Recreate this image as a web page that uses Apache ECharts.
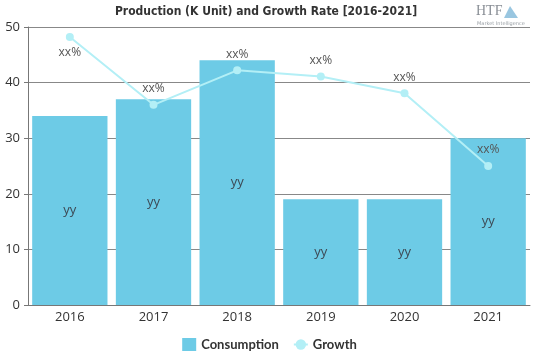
<!DOCTYPE html>
<html><head><meta charset="utf-8">
<script src="https://cdn.jsdelivr.net/npm/echarts@6/dist/echarts.min.js"></script>
<style>html,body{margin:0;padding:0;background:#fff}#c{width:539px;height:359px}</style>
</head><body><div id="c"></div>
<script>
const categories = ['2016','2017','2018','2019','2020','2021'];
const consumption = [34, 37, 44, 19, 19, 30];
const growth = [48.2, 36, 42.2, 41.1, 38.1, 25];
const barLabels = ['yy','yy','yy','yy','yy','yy'];
const growthLabels = ['xx%','xx%','xx%','xx%','xx%','xx%'];
const yTicks = [0, 10, 20, 30, 40, 50];

const chart = echarts.init(document.getElementById('c'));
chart.setOption({
  animation: false,
  title: {
    text: 'Production (K Unit) and Growth Rate [2016-2021]',
    left: 261, top: 1, textAlign: 'center',
    textStyle: {fontFamily: 'DejaVu Sans Condensed', fontWeight: 'bold', fontSize: 12, color: '#333'}
  },
  graphic: [
    {type: 'text', left: 476, top: 4, style: {text: 'HTF', font: '14px "Liberation Serif"', fill: '#8a8f96'}},
    {type: 'polygon', shape: {points: [[504, 18], [510, 6], [518, 18]]}, style: {fill: '#7fb8d8', opacity: 0.8}},
    {type: 'text', left: 477, top: 21, style: {text: 'Market Intelligence', font: '5px "DejaVu Sans"', fill: '#9aa0a6'}}
  ],
  legend: {
    bottom: 3, left: 'center', itemWidth: 14, itemHeight: 13, itemGap: 14,
    textStyle: {fontFamily: 'Lato', fontWeight: 'bold', fontSize: 13, color: '#333'},
    data: [{name: 'Consumption', icon: 'rect'}, {name: 'Growth'}]
  },
  grid: {left: 28, right: 9, top: 27, bottom: 54},
  xAxis: {
    type: 'category', data: categories,
    axisLine: {lineStyle: {color: '#777'}},
    axisTick: {alignWithLabel: true, length: 4, lineStyle: {color: '#777'}},
    axisLabel: {fontFamily: 'Open Sans', fontSize: 13, color: '#333', margin: 6}
  },
  yAxis: {
    type: 'value', min: yTicks[0], max: yTicks[yTicks.length-1], interval: 10,
    axisLine: {show: true, lineStyle: {color: '#777'}},
    axisTick: {show: true, length: 4, lineStyle: {color: '#777'}},
    splitLine: {lineStyle: {color: '#888', width: 1}},
    axisLabel: {fontFamily: 'Open Sans', fontSize: 13, color: '#333', margin: 8}
  },
  series: [
    {
      name: 'Consumption', type: 'bar', barCategoryGap: '10%',
      itemStyle: {color: '#6dcbe6'},
      data: consumption,
      label: {show: true, position: 'inside', color: '#3d4a55', fontFamily: 'Open Sans', fontSize: 13,
        formatter: p => barLabels[p.dataIndex]}
    },
    {
      name: 'Growth', type: 'line', symbol: 'circle', symbolSize: 8,
      itemStyle: {color: '#b3eff6'}, lineStyle: {color: '#b3eff6', width: 2},
      data: growth.map((v, i) => i === 0 ? {value: v, label: {position: 'bottom'}} : v),
      label: {show: true, position: 'top', distance: 6, color: '#555', fontFamily: 'Open Sans', fontSize: 12,
        formatter: p => growthLabels[p.dataIndex]}
    }
  ]
});
</script></body></html>
